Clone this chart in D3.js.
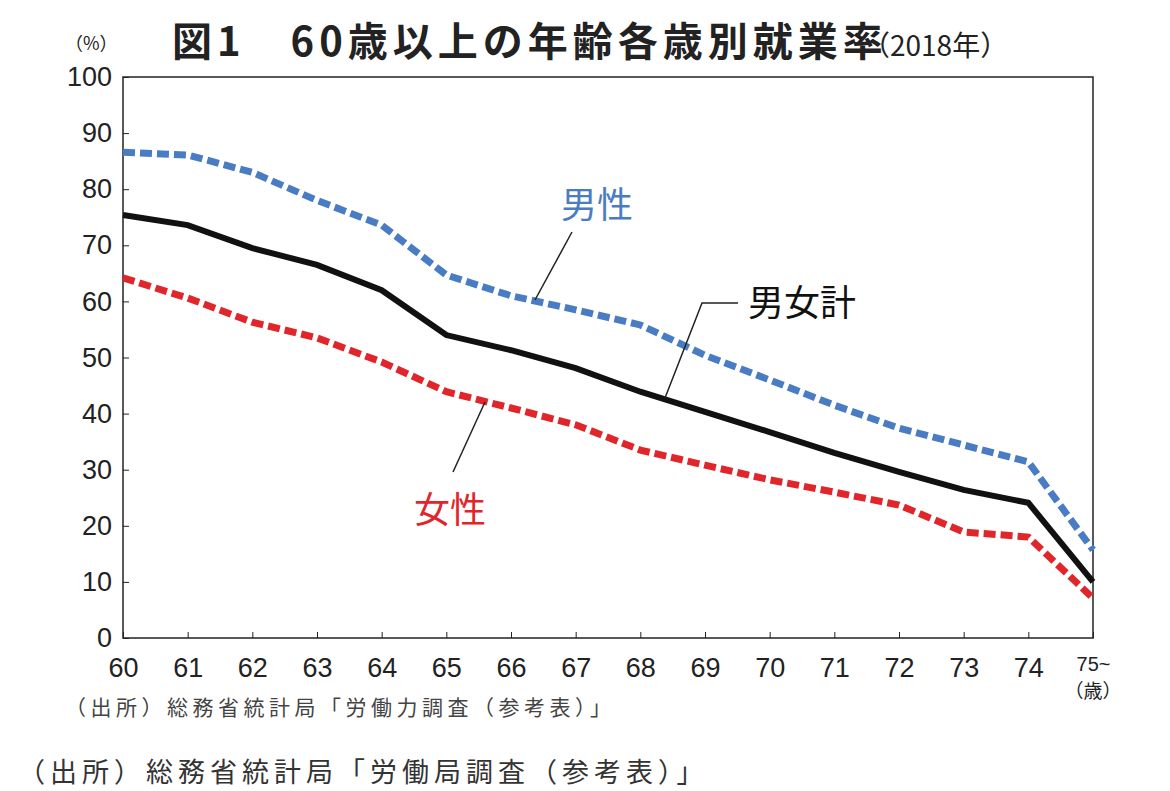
<!DOCTYPE html>
<html><head><meta charset="utf-8">
<script src="https://cdn.jsdelivr.net/npm/d3@7"></script>
<style>body{margin:0;background:#fff;font-family:"Noto Sans CJK JP","Noto Sans",sans-serif;}</style>
</head><body>
<script>
// data
var ages = ["60","61","62","63","64","65","66","67","68","69","70","71","72","73","74","75~"];
var male = [86.6,86.1,83,78,73.6,64.7,61,58.5,55.8,50.4,46,41.5,37.4,34.4,31.4,15.7];
var total = [75.4,73.6,69.5,66.5,62,54,51.3,48.1,43.9,40.3,36.7,33,29.6,26.4,24.1,10];
var female = [64.2,60.6,56.3,53.5,49.2,43.9,41,38,33.5,30.8,28.2,26,23.7,18.9,18,7.1];
var yTicks = [0,10,20,30,40,50,60,70,80,90,100];

var margin = {top: 77, left: 123};
var chartWidth = 970, chartHeight = 561;

var svg = d3.select("body").append("svg").attr("width", 1170).attr("height", 791);
var chartGroup = svg.append("g").attr("transform", `translate(${margin.left}, ${margin.top})`);

var x = d3.scalePoint().domain(ages).range([0, chartWidth]);
var y = d3.scaleLinear().domain([0, 100]).range([chartHeight, 0]);

// frame
chartGroup.append("rect").attr("width", chartWidth).attr("height", chartHeight)
    .attr("fill", "none").attr("stroke", "#222").attr("stroke-width", 1.5);

var yAxis = chartGroup.append("g").call(d3.axisLeft(y).tickValues(yTicks).tickSize(6).tickSizeOuter(0));
yAxis.selectAll("text").attr("font-size", 27).attr("fill", "#222").attr("font-family", "Liberation Sans, Arial").attr("dx", "-2");
yAxis.select(".domain").remove();
yAxis.selectAll("line").attr("x2", 6).attr("stroke", "#222");

var xAxis = chartGroup.append("g").attr("transform", `translate(0,${chartHeight})`)
    .call(d3.axisBottom(x).tickSize(6).tickSizeOuter(0));
xAxis.select(".domain").remove();
xAxis.selectAll("line").attr("y2", -6).attr("stroke", "#222");
xAxis.selectAll("text").attr("font-size", 27).attr("fill", "#222").attr("font-family", "Liberation Sans, Arial").attr("dy", "1.1em")
    .filter(d => d === "75~").attr("font-size", 20).attr("dy", "1.2em");
chartGroup.append("text").attr("x", chartWidth).attr("y", chartHeight + 60)
    .attr("text-anchor", "middle").attr("font-size", 19).attr("fill", "#222").text("（歳）");

var line = d3.line().x((d, i) => x(ages[i])).y(d => y(d));
chartGroup.append("path").datum(male).attr("d", line).attr("fill", "none")
    .attr("stroke", "#4a7cc4").attr("stroke-width", 7).attr("stroke-dasharray", "12,5");
chartGroup.append("path").datum(female).attr("d", line).attr("fill", "none")
    .attr("stroke", "#e0262b").attr("stroke-width", 7).attr("stroke-dasharray", "12,5");
chartGroup.append("path").datum(total).attr("d", line).attr("fill", "none")
    .attr("stroke", "#111").attr("stroke-width", 6);

// labels and leaders
svg.append("text").attr("x", 597).attr("y", 218).attr("text-anchor", "middle").attr("font-size", 36).attr("fill", "#4a7cc4").text("男性");
svg.append("line").attr("x1", 572).attr("y1", 232).attr("x2", 535).attr("y2", 300).attr("stroke", "#222").attr("stroke-width", 1.5);
svg.append("text").attr("x", 748).attr("y", 316).attr("font-size", 36).attr("fill", "#111").text("男女計");
svg.append("polyline").attr("points", "738,303 702,303 665,398").attr("fill", "none").attr("stroke", "#222").attr("stroke-width", 1.5);
svg.append("text").attr("x", 450).attr("y", 523).attr("text-anchor", "middle").attr("font-size", 36).attr("fill", "#e0262b").text("女性");
svg.append("line").attr("x1", 453).attr("y1", 472).attr("x2", 485).attr("y2", 402).attr("stroke", "#222").attr("stroke-width", 1.5);

// titles
svg.append("text").attr("x", 65).attr("y", 50).attr("font-size", 18).attr("fill", "#222").text("（%）");
svg.append("text").attr("x", 172).attr("y", 56).attr("font-size", 40).attr("font-weight", "bold").attr("fill", "#222")
    .attr("letter-spacing", 5).text("図1　60歳以上の年齢各歳別就業率");
svg.append("text").attr("x", 862).attr("y", 56).attr("font-size", 28).attr("fill", "#222").text("（2018年）");
svg.append("text").attr("x", 65).attr("y", 715).attr("font-size", 21).attr("letter-spacing", 4.5).attr("fill", "#444").text("（出所）総務省統計局「労働力調査（参考表）」");
svg.append("text").attr("x", 18).attr("y", 782).attr("font-size", 27).attr("letter-spacing", 5).attr("fill", "#333").text("（出所）総務省統計局「労働局調査（参考表）」");
</script>
</body></html>
